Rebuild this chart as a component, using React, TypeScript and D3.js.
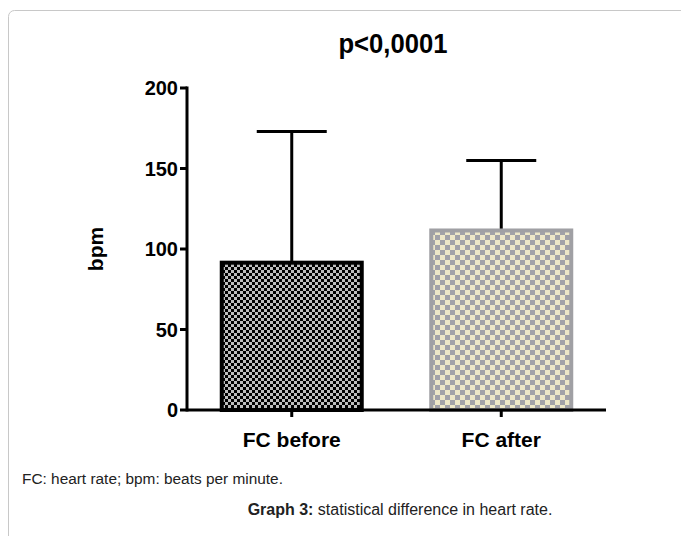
import React from "react";
import { scaleLinear, scalePoint } from "d3";

const groups = ["FC before", "FC after"];
const means = [91.5, 111.5];
const sds = [81.5, 43.5];
const yTicks = [0, 50, 100, 150, 200];

const W = 681;
const H = 536;
const font = "Arial, 'Liberation Sans', Helvetica, sans-serif";

function App() {
  const x0 = 187;
  const x1 = 606;
  const scaleX = scalePoint().domain(groups).range([x0, x1]).padding(0.5);
  const scaleY = scaleLinear().domain([0, 200]).range([410, 88]);
  const barW = 140;
  const capW = 70;

  return (
    <svg width={W} height={H} style={{ position: "absolute", left: 0, top: 0, background: "#fff" }}>
      <defs>
        <pattern id="checkDark" width="6" height="6" patternUnits="userSpaceOnUse">
          <rect width="6" height="6" fill="#bdbdbd" />
          <rect width="3" height="3" fill="#000" />
          <rect x="3" y="3" width="3" height="3" fill="#000" />
        </pattern>
        <pattern id="checkLight" width="10" height="10" patternUnits="userSpaceOnUse">
          <rect width="10" height="10" fill="#ede7c8" />
          <rect width="5" height="5" fill="#a2a2a8" />
          <rect x="5" y="5" width="5" height="5" fill="#a2a2a8" />
        </pattern>
      </defs>

      <rect x={8.5} y={10.5} width={700} height={560} rx={6} fill="none" stroke="#c8c8c8" />

      <text
        x={393}
        y={53}
        textAnchor="middle"
        fontFamily={font}
        fontWeight="bold"
        fontSize={27}
        fill="#000"
        transform="translate(393 0) scale(0.95 1) translate(-393 0)"
      >
        p&lt;0,0001
      </text>

      {/* error bars, drawn behind bars */}
      {groups.map((g, i) => {
        const cx = scaleX(g)!;
        const top = scaleY(means[i] + sds[i]);
        return (
          <g key={`err-${g}`} stroke="#000" strokeWidth={3}>
            <line x1={cx} x2={cx} y1={scaleY(means[i])} y2={top} />
            <line x1={cx - capW / 2} x2={cx + capW / 2} y1={top} y2={top} />
          </g>
        );
      })}

      {groups.map((g, i) => {
        const cx = scaleX(g)!;
        return (
          <rect
            key={`bar-${g}`}
            x={cx - barW / 2}
            y={scaleY(means[i])}
            width={barW}
            height={scaleY(0) - scaleY(means[i])}
            fill={i === 0 ? "url(#checkDark)" : "url(#checkLight)"}
            stroke={i === 0 ? "#000" : "#a0a0a4"}
            strokeWidth={4}
          />
        );
      })}

      {/* y axis */}
      <g stroke="#000" strokeWidth={3}>
        <line x1={x0} x2={x0} y1={scaleY(200) - 1.5} y2={scaleY(0) + 1.5} />
        {yTicks.map((t) => (
          <line key={`yt-${t}`} x1={x0 - 7} x2={x0} y1={scaleY(t)} y2={scaleY(t)} />
        ))}
      </g>
      {yTicks.map((t) => (
        <text
          key={`yl-${t}`}
          x={x0 - 9}
          y={scaleY(t) + 7}
          textAnchor="end"
          fontFamily={font}
          fontWeight="bold"
          fontSize={20}
          fill="#000"
        >
          {t}
        </text>
      ))}
      <text
        transform={`translate(103, ${scaleY(100)}) rotate(-90)`}
        textAnchor="middle"
        fontFamily={font}
        fontWeight="bold"
        fontSize={21}
        fill="#000"
      >
        bpm
      </text>

      {/* x axis */}
      <g stroke="#000" strokeWidth={3}>
        <line x1={x0} x2={x1} y1={scaleY(0)} y2={scaleY(0)} />
        {groups.map((g) => (
          <line key={`xt-${g}`} x1={scaleX(g)!} x2={scaleX(g)!} y1={scaleY(0)} y2={scaleY(0) + 7} />
        ))}
      </g>
      {groups.map((g) => (
        <text
          key={`xl-${g}`}
          x={scaleX(g)!}
          y={447}
          textAnchor="middle"
          fontFamily={font}
          fontWeight="bold"
          fontSize={21}
          fill="#000"
        >
          {g}
        </text>
      ))}

      <text x={22} y={484} fontFamily={font} fontSize={15.4} fill="#222">
        FC: heart rate; bpm: beats per minute.
      </text>
      <text x={400} y={515} textAnchor="middle" fontFamily={font} fontSize={16} fill="#222">
        <tspan fontWeight="bold">Graph 3:</tspan> statistical difference in heart rate.
      </text>
    </svg>
  );
}

export default App;
